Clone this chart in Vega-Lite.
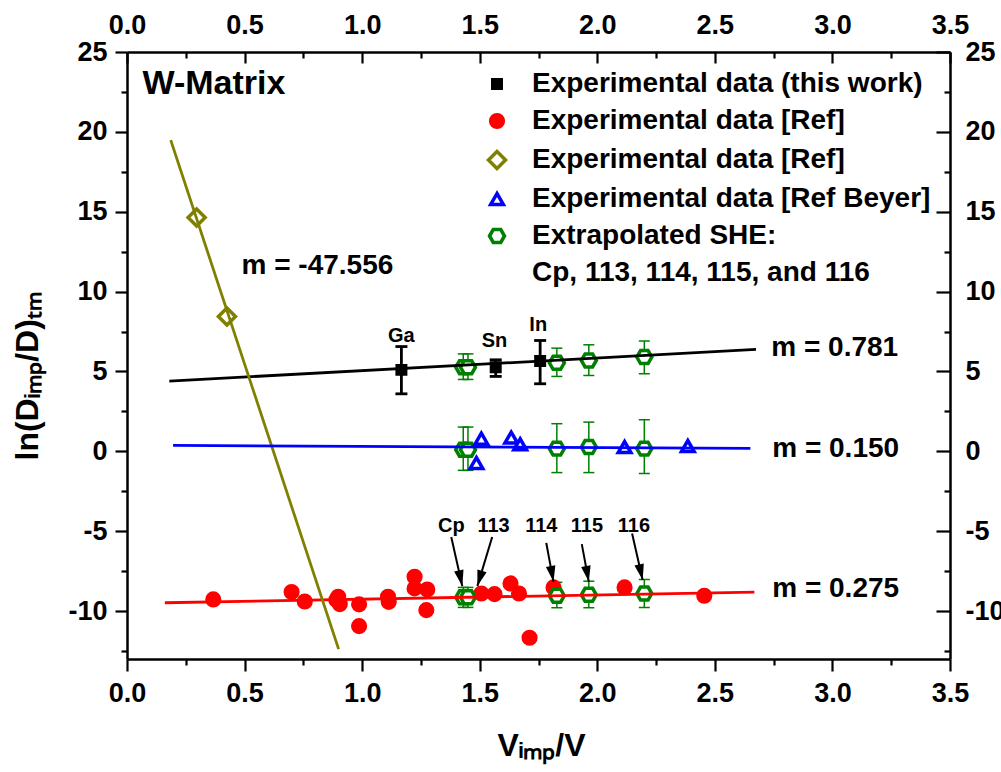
{
 "$schema": "https://vega.github.io/schema/vega-lite/v6.json",
 "width": 823, "height": 607,
 "autosize": "none",
 "padding": {"left": 127, "top": 52, "right": 51, "bottom": 113},
 "background": "white",
 "config": {
  "view": {"stroke": null},
  "font": "Liberation Sans",
  "axis": {"grid": false, "domainColor": "black", "domainWidth": 2.5, "tickColor": "black", "tickWidth": 2.2,
   "labelFont": "Liberation Sans", "labelFontSize": 27, "labelFontWeight": "bold", "labelColor": "black",
   "titleFont": "Liberation Sans", "titleFontSize": 32, "titleFontWeight": "bold", "titleColor": "black",
   "labelFlush": false, "labelOverlap": false},
  "legend": {"orient": "none", "legendX": 356, "legendY": 18, "labelFont": "Liberation Sans", "labelFontSize": 28,
   "labelFontWeight": "bold", "labelColor": "black", "labelOffset": 21, "rowPadding": 9, "symbolStrokeWidth": 3.5,
   "padding": 0, "labelLimit": 700, "symbolOpacity": 1}
 },
 "datasets": {
  "pts": [
   {"s": "B", "x": 0.367, "y": -9.27}, {"s": "B", "x": 0.70, "y": -8.81}, {"s": "B", "x": 0.756, "y": -9.4},
   {"s": "B", "x": 0.898, "y": -9.1}, {"s": "B", "x": 0.89, "y": -9.3}, {"s": "B", "x": 0.905, "y": -9.56},
   {"s": "B", "x": 0.987, "y": -9.58}, {"s": "B", "x": 0.987, "y": -10.94}, {"s": "B", "x": 1.11, "y": -9.1},
   {"s": "B", "x": 1.113, "y": -9.42}, {"s": "B", "x": 1.223, "y": -7.85}, {"s": "B", "x": 1.223, "y": -8.58},
   {"s": "B", "x": 1.277, "y": -8.65}, {"s": "B", "x": 1.273, "y": -9.94}, {"s": "B", "x": 1.507, "y": -8.9},
   {"s": "B", "x": 1.563, "y": -8.94}, {"s": "B", "x": 1.631, "y": -8.27}, {"s": "B", "x": 1.667, "y": -8.9},
   {"s": "B", "x": 1.712, "y": -11.67}, {"s": "B", "x": 1.814, "y": -8.52}, {"s": "B", "x": 2.116, "y": -8.52},
   {"s": "B", "x": 2.455, "y": -9.04},
   {"s": "E", "x": 1.43, "y": 5.27, "lo": 4.5, "hi": 6.1}, {"s": "E", "x": 1.45, "y": 5.27, "lo": 4.5, "hi": 6.1},
   {"s": "E", "x": 1.828, "y": 5.54, "lo": 4.69, "hi": 6.46}, {"s": "E", "x": 1.964, "y": 5.69, "lo": 4.75, "hi": 6.67},
   {"s": "E", "x": 2.20, "y": 5.9, "lo": 4.86, "hi": 6.9},
   {"s": "E", "x": 1.43, "y": 0.1, "lo": -1.19, "hi": 1.52}, {"s": "E", "x": 1.45, "y": 0.1, "lo": -1.19, "hi": 1.52},
   {"s": "E", "x": 1.828, "y": 0.17, "lo": -1.33, "hi": 1.73}, {"s": "E", "x": 1.964, "y": 0.27, "lo": -1.33, "hi": 1.83},
   {"s": "E", "x": 2.20, "y": 0.17, "lo": -1.39, "hi": 1.98},
   {"s": "E", "x": 1.43, "y": -9.14, "lo": -9.77, "hi": -8.52}, {"s": "E", "x": 1.45, "y": -9.14, "lo": -9.77, "hi": -8.52},
   {"s": "E", "x": 1.828, "y": -9.04, "lo": -9.79, "hi": -8.2}, {"s": "E", "x": 1.964, "y": -8.98, "lo": -9.79, "hi": -8.13},
   {"s": "E", "x": 2.20, "y": -8.9, "lo": -9.77, "hi": -8.02},
   {"s": "C", "x": 0.296, "y": 14.64}, {"s": "C", "x": 0.425, "y": 8.44},
   {"s": "D", "x": 1.507, "y": 0.79}, {"s": "D", "x": 1.486, "y": -0.73}, {"s": "D", "x": 1.634, "y": 0.86},
   {"s": "D", "x": 1.672, "y": 0.44}, {"s": "D", "x": 2.116, "y": 0.27}, {"s": "D", "x": 2.385, "y": 0.33},
   {"s": "A", "x": 1.167, "y": 5.1, "lo": 3.6, "hi": 6.56}, {"s": "A", "x": 1.568, "y": 5.27, "lo": 4.69, "hi": 5.73},
   {"s": "A", "x": 1.757, "y": 5.65, "lo": 4.23, "hi": 6.94}
  ],
  "fits": [
   {"g": "thiswork", "x": 0.18, "y": 4.4}, {"g": "thiswork", "x": 2.675, "y": 6.38},
   {"g": "ref1", "x": 0.161, "y": -9.48}, {"g": "ref1", "x": 2.668, "y": -8.81},
   {"g": "ref2", "x": 0.186, "y": 19.48}, {"g": "ref2", "x": 0.90, "y": -12.38},
   {"g": "beyer", "x": 0.196, "y": 0.37}, {"g": "beyer", "x": 2.651, "y": 0.19}
  ],
  "arrows": [
   {"x": 1.379, "y": -5.36, "x2": 1.426, "y2": -8.44},
   {"x": 1.553, "y": -5.36, "x2": 1.49, "y2": -8.44},
   {"x": 1.783, "y": -5.73, "x2": 1.814, "y2": -8.17},
   {"x": 1.934, "y": -5.81, "x2": 1.964, "y2": -8.17},
   {"x": 2.148, "y": -5.14, "x2": 2.193, "y2": -8.06}
  ],
  "ann": [
   {"k": "title", "t": "W-Matrix", "x": 0.066, "y": 22.36},
   {"k": "slope", "t": "m = -47.556", "x": 0.487, "y": 11.1},
   {"k": "slope", "t": "m = 0.781", "x": 2.74, "y": 6.0},
   {"k": "slope", "t": "m = 0.150", "x": 2.744, "y": -0.36},
   {"k": "slope", "t": "m = 0.275", "x": 2.744, "y": -9.1},
   {"k": "elem", "t": "Ga", "x": 1.167, "y": 6.83},
   {"k": "elem", "t": "Sn", "x": 1.563, "y": 6.52},
   {"k": "elem", "t": "In", "x": 1.749, "y": 7.52},
   {"k": "she", "t": "Cp", "x": 1.379, "y": -5.04},
   {"k": "she", "t": "113", "x": 1.559, "y": -5.04},
   {"k": "she", "t": "114", "x": 1.762, "y": -5.04},
   {"k": "she", "t": "115", "x": 1.956, "y": -5.04},
   {"k": "she", "t": "116", "x": 2.156, "y": -5.04}
  ]
 },
 "layer": [
  {"data": {"name": "pts"}, "transform": [{"filter": "datum.s=='E'"}],
   "mark": {"type": "rule", "color": "#008000", "strokeWidth": 1.5},
   "encoding": {"x": {"field": "x", "type": "quantitative", "axis": null},
    "y": {"field": "lo", "type": "quantitative", "axis": null}, "y2": {"field": "hi"}}},
  {"data": {"name": "pts"}, "transform": [{"filter": "datum.s=='E'"}],
   "mark": {"type": "tick", "orient": "horizontal", "color": "#008000", "size": 11, "thickness": 1.5, "opacity": 1},
   "encoding": {"x": {"field": "x", "type": "quantitative", "axis": null},
    "y": {"field": "lo", "type": "quantitative", "axis": null}}},
  {"data": {"name": "pts"}, "transform": [{"filter": "datum.s=='E'"}],
   "mark": {"type": "tick", "orient": "horizontal", "color": "#008000", "size": 11, "thickness": 1.5, "opacity": 1},
   "encoding": {"x": {"field": "x", "type": "quantitative", "axis": null},
    "y": {"field": "hi", "type": "quantitative", "axis": null}}},
  {"data": {"name": "pts"}, "transform": [{"filter": "datum.s=='A'"}],
   "mark": {"type": "rule", "color": "black", "strokeWidth": 2.8},
   "encoding": {"x": {"field": "x", "type": "quantitative", "axis": null},
    "y": {"field": "lo", "type": "quantitative", "axis": null}, "y2": {"field": "hi"}}},
  {"data": {"name": "pts"}, "transform": [{"filter": "datum.s=='A'"}],
   "mark": {"type": "tick", "orient": "horizontal", "color": "black", "size": 12, "thickness": 2.8, "opacity": 1},
   "encoding": {"x": {"field": "x", "type": "quantitative", "axis": null},
    "y": {"field": "lo", "type": "quantitative", "axis": null}}},
  {"data": {"name": "pts"}, "transform": [{"filter": "datum.s=='A'"}],
   "mark": {"type": "tick", "orient": "horizontal", "color": "black", "size": 12, "thickness": 2.8, "opacity": 1},
   "encoding": {"x": {"field": "x", "type": "quantitative", "axis": null},
    "y": {"field": "hi", "type": "quantitative", "axis": null}}},
  {"data": {"name": "pts"},
   "mark": {"type": "point", "opacity": 1, "strokeWidth": 3.5},
   "encoding": {
    "x": {"field": "x", "type": "quantitative", "scale": {"domain": [0, 3.5], "nice": false, "zero": false},
     "axis": {"orient": "bottom", "values": [0,0.25,0.5,0.75,1,1.25,1.5,1.75,2,2.25,2.5,2.75,3,3.25,3.5],
      "labelExpr": "round(datum.value*4)%2==0 ? format(datum.value,'.1f') : ''",
      "tickSize": {"condition": {"test": "round(datum.value*4)%2==0", "value": 12}, "value": 6},
      "labelPadding": 9, "title": "Vᵢₘₚ/V", "titleX": 370, "titleY": 96, "titleAlign": "left",
      "titleBaseline": "alphabetic", "titleAngle": 0}},
    "y": {"field": "y", "type": "quantitative", "scale": {"domain": [-13, 25], "nice": false, "zero": false},
     "axis": {"orient": "left", "values": [-12.5,-10,-7.5,-5,-2.5,0,2.5,5,7.5,10,12.5,15,17.5,20,22.5,25],
      "labelExpr": "datum.value%5==0 ? ''+datum.value : ''",
      "tickSize": {"condition": {"test": "datum.value%5==0", "value": 12}, "value": 6},
      "labelPadding": 8, "title": "ln(Dᵢₘₚ/D)ₜₘ", "titleX": -90, "titleY": 408, "titleAngle": -90,
      "titleAlign": "left", "titleBaseline": "alphabetic"}},
    "shape": {"field": "s", "type": "nominal",
     "scale": {"type": "ordinal", "domain": ["A","B","C","D","E","F"], "range": ["square","circle","diamond","triangle-up","M-1,0L-0.5,-0.866L0.5,-0.866L1,0L0.5,0.866L-0.5,0.866Z","circle"]},
     "legend": {"title": null, "labelExpr": "datum.value=='A' ? 'Experimental data (this work)' : datum.value=='B' ? 'Experimental data [Ref]' : datum.value=='C' ? 'Experimental data [Ref]' : datum.value=='D' ? 'Experimental data [Ref Beyer]' : datum.value=='E' ? 'Extrapolated SHE:' : 'Cp, 113, 114, 115, and 116'"}},
    "fill": {"field": "s", "type": "nominal",
     "scale": {"type": "ordinal", "domain": ["A","B","C","D","E","F"], "range": ["#000000","#ff0000","#ffffff","#ffffff","#ffffff","transparent"]},
     "legend": {"title": null, "labelExpr": "datum.value=='A' ? 'Experimental data (this work)' : datum.value=='B' ? 'Experimental data [Ref]' : datum.value=='C' ? 'Experimental data [Ref]' : datum.value=='D' ? 'Experimental data [Ref Beyer]' : datum.value=='E' ? 'Extrapolated SHE:' : 'Cp, 113, 114, 115, and 116'"}},
    "stroke": {"field": "s", "type": "nominal",
     "scale": {"type": "ordinal", "domain": ["A","B","C","D","E","F"], "range": ["#000000","#ff0000","#808000","#0000ff","#008000","transparent"]},
     "legend": {"title": null, "labelExpr": "datum.value=='A' ? 'Experimental data (this work)' : datum.value=='B' ? 'Experimental data [Ref]' : datum.value=='C' ? 'Experimental data [Ref]' : datum.value=='D' ? 'Experimental data [Ref Beyer]' : datum.value=='E' ? 'Extrapolated SHE:' : 'Cp, 113, 114, 115, and 116'"}},
    "size": {"field": "s", "type": "nominal",
     "scale": {"type": "ordinal", "domain": ["A","B","C","D","E","F"], "range": [72,160,289,160,225,0]},
     "legend": {"title": null, "labelExpr": "datum.value=='A' ? 'Experimental data (this work)' : datum.value=='B' ? 'Experimental data [Ref]' : datum.value=='C' ? 'Experimental data [Ref]' : datum.value=='D' ? 'Experimental data [Ref Beyer]' : datum.value=='E' ? 'Extrapolated SHE:' : 'Cp, 113, 114, 115, and 116'"}}
   }},
  {"data": {"name": "fits"}, "transform": [{"filter": "datum.g=='thiswork'"}],
   "mark": {"type": "line", "color": "black", "strokeWidth": 2.8},
   "encoding": {
    "x": {"field": "x", "type": "quantitative",
     "axis": {"orient": "top", "values": [0,0.25,0.5,0.75,1,1.25,1.5,1.75,2,2.25,2.5,2.75,3,3.25,3.5],
      "labelExpr": "round(datum.value*4)%2==0 ? format(datum.value,'.1f') : ''",
      "tickSize": {"condition": {"test": "round(datum.value*4)%2==0", "value": -11}, "value": -6},
      "labelPadding": 24, "title": null}},
    "y": {"field": "y", "type": "quantitative",
     "axis": {"orient": "right", "values": [-12.5,-10,-7.5,-5,-2.5,0,2.5,5,7.5,10,12.5,15,17.5,20,22.5,25],
      "labelExpr": "datum.value%5==0 ? ''+datum.value : ''",
      "tickSize": {"condition": {"test": "datum.value%5==0", "value": -14}, "value": -6},
      "labelPadding": 29, "title": null}}}},
  {"data": {"name": "fits"}, "transform": [{"filter": "datum.g=='ref1'"}],
   "mark": {"type": "line", "color": "#ff0000", "strokeWidth": 2.8},
   "encoding": {"x": {"field": "x", "type": "quantitative", "axis": null}, "y": {"field": "y", "type": "quantitative", "axis": null}}},
  {"data": {"name": "fits"}, "transform": [{"filter": "datum.g=='ref2'"}],
   "mark": {"type": "line", "color": "#808000", "strokeWidth": 2.8},
   "encoding": {"x": {"field": "x", "type": "quantitative", "axis": null}, "y": {"field": "y", "type": "quantitative", "axis": null}}},
  {"data": {"name": "fits"}, "transform": [{"filter": "datum.g=='beyer'"}],
   "mark": {"type": "line", "color": "#0000ff", "strokeWidth": 2.8},
   "encoding": {"x": {"field": "x", "type": "quantitative", "axis": null}, "y": {"field": "y", "type": "quantitative", "axis": null}}},
  {"data": {"name": "arrows"},
   "mark": {"type": "rule", "color": "black", "strokeWidth": 2},
   "encoding": {"x": {"field": "x", "type": "quantitative", "axis": null}, "y": {"field": "y", "type": "quantitative", "axis": null},
    "x2": {"field": "x2"}, "y2": {"field": "y2"}}},
  {"data": {"name": "arrows"},
   "transform": [{"calculate": "atan2(-(datum.x2-datum.x)*235.4, -(datum.y2-datum.y)*16)*180/PI", "as": "ang"}],
   "mark": {"type": "point", "filled": true, "shape": "M0,0L-0.3,-1L0.3,-1Z", "size": 1024, "color": "black", "opacity": 1, "strokeWidth": 0},
   "encoding": {"x": {"field": "x2", "type": "quantitative", "axis": null}, "y": {"field": "y2", "type": "quantitative", "axis": null},
    "angle": {"field": "ang", "type": "quantitative", "scale": null}}},
  {"data": {"name": "ann"}, "transform": [{"filter": "datum.k=='title'"}],
   "mark": {"type": "text", "align": "left", "baseline": "alphabetic", "font": "Liberation Sans", "fontSize": 34, "fontWeight": "bold", "color": "black"},
   "encoding": {"x": {"field": "x", "type": "quantitative", "axis": null}, "y": {"field": "y", "type": "quantitative", "axis": null}, "text": {"field": "t"}}},
  {"data": {"name": "ann"}, "transform": [{"filter": "datum.k=='slope'"}],
   "mark": {"type": "text", "align": "left", "baseline": "alphabetic", "font": "Liberation Sans", "fontSize": 28, "fontWeight": "bold", "color": "black"},
   "encoding": {"x": {"field": "x", "type": "quantitative", "axis": null}, "y": {"field": "y", "type": "quantitative", "axis": null}, "text": {"field": "t"}}},
  {"data": {"name": "ann"}, "transform": [{"filter": "datum.k=='elem'"}],
   "mark": {"type": "text", "align": "center", "baseline": "alphabetic", "font": "Liberation Sans", "fontSize": 20, "fontWeight": "bold", "color": "black"},
   "encoding": {"x": {"field": "x", "type": "quantitative", "axis": null}, "y": {"field": "y", "type": "quantitative", "axis": null}, "text": {"field": "t"}}},
  {"data": {"name": "ann"}, "transform": [{"filter": "datum.k=='she'"}],
   "mark": {"type": "text", "align": "center", "baseline": "alphabetic", "font": "Liberation Sans", "fontSize": 20, "fontWeight": "bold", "color": "black"},
   "encoding": {"x": {"field": "x", "type": "quantitative", "axis": null}, "y": {"field": "y", "type": "quantitative", "axis": null}, "text": {"field": "t"}}}
 ],
 "resolve": {"axis": {"x": "independent", "y": "independent"}}
}
